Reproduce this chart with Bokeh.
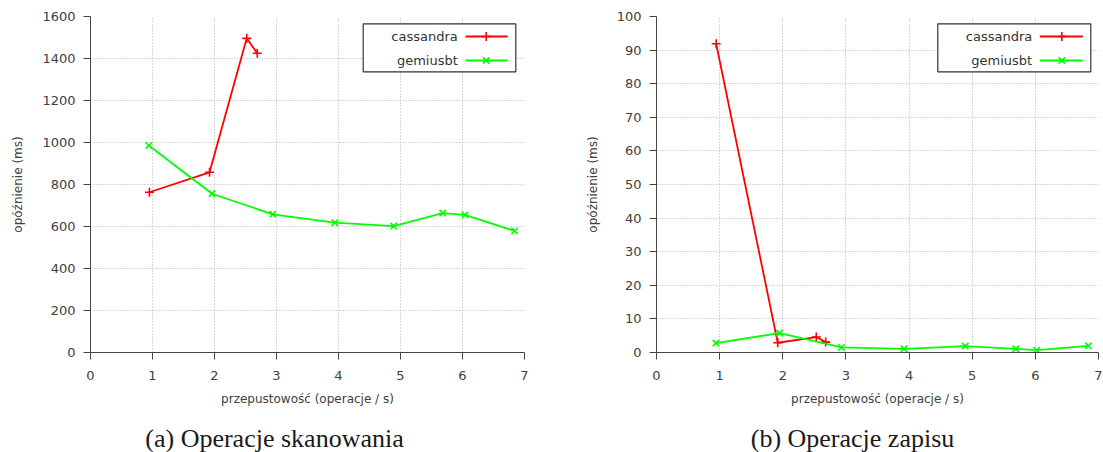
from bokeh.plotting import figure
from bokeh.models import Range1d, FixedTicker, ColumnDataSource
from bokeh.layouts import row, column
from bokeh.embed import file_html
from bokeh.resources import INLINE
from bokeh.core.properties import value

# ---------------- data ----------------
series_names = ["cassandra", "gemiusbt"]
x_ticks = [0, 1, 2, 3, 4, 5, 6, 7]

scan_cassandra_x = [0.95, 1.92, 2.52, 2.69]
scan_cassandra_y = [763, 858, 1496, 1425]
scan_gemiusbt_x = [0.94, 1.96, 2.94, 3.94, 4.89, 5.68, 6.04, 6.84]
scan_gemiusbt_y = [986, 756, 658, 618, 602, 664, 655, 579]
scan_y_ticks = [0, 200, 400, 600, 800, 1000, 1200, 1400, 1600]

write_cassandra_x = [0.945, 1.92, 2.53, 2.68]
write_cassandra_y = [91.9, 2.9, 4.6, 3.1]
write_gemiusbt_x = [0.94, 1.95, 2.93, 3.92, 4.89, 5.69, 6.02, 6.84]
write_gemiusbt_y = [2.8, 5.8, 1.5, 1.1, 1.9, 1.1, 0.7, 2.0]
write_y_ticks = [0, 10, 20, 30, 40, 50, 60, 70, 80, 90, 100]

x_label = "przepustowość (operacje / s)"
y_label = "opóźnienie (ms)"
captions = ["(a) Operacje skanowania", "(b) Operacje zapisu"]

colors = ["#ff0000", "#00ff00"]
markers = ["cross", "x"]

SANS = "DejaVu Sans"
TXT = "#404040"
MAIN_H = 408
CAP_H = 44


def make_panel(cx, cy, gx, gy, yticks, ymax, width, bl, br, leg):
    bt, bb = 16, MAIN_H - 352
    fw = width - bl - br
    fh = MAIN_H - bt - bb
    p = figure(width=width, height=MAIN_H, output_backend="svg", toolbar_location=None,
               x_range=Range1d(0, 7), y_range=Range1d(0, ymax),
               min_border_left=bl, min_border_right=br, min_border_top=bt, min_border_bottom=bb)
    p.outline_line_color = None
    p.background_fill_color = "white"
    p.border_fill_color = "white"

    for ax, ticks in ((p.xaxis[0], x_ticks), (p.yaxis[0], yticks)):
        ax.ticker = FixedTicker(ticks=ticks)
        ax.axis_line_color = "#444444"
        ax.major_tick_line_color = "#444444"
        ax.major_tick_out = 7
        ax.major_tick_in = 0
        ax.minor_tick_line_color = None
        ax.major_label_text_font = SANS
        ax.major_label_text_font_size = "13px"
        ax.major_label_text_color = TXT
        ax.axis_label_text_font = SANS
        ax.axis_label_text_font_size = "12px"
        ax.axis_label_text_font_style = "normal"
        ax.axis_label_text_color = TXT
    p.xaxis[0].axis_label = x_label
    p.yaxis[0].axis_label = y_label
    p.xaxis[0].major_label_standoff = 11
    p.yaxis[0].major_label_standoff = 8
    p.xaxis[0].axis_label_standoff = 9
    p.yaxis[0].axis_label_standoff = 14

    for g in p.grid:
        g.grid_line_color = "#b0b0b0"
        g.grid_line_dash = "1 2"
        g.grid_line_width = 1

    # data
    for (xs, ys), col, mk in zip(((cx, cy), (gx, gy)), colors, markers):
        src = ColumnDataSource(dict(x=xs, y=ys))
        p.line("x", "y", source=src, line_color=col, line_width=1.8)
        p.scatter("x", "y", source=src, marker=mk, size=9, line_color=col, line_width=1.6)

    # legend (in frame pixel coordinates, text left / sample right like gnuplot)
    p.extra_x_ranges = {"px": Range1d(0, fw)}
    p.extra_y_ranges = {"py": Range1d(0, fh)}
    p.quad(left=[leg["box"][0]], right=[leg["box"][1]], bottom=[fh - leg["box"][3]],
           top=[fh - leg["box"][2]], x_range_name="px", y_range_name="py",
           fill_color="white", line_color="#333333", line_width=1.2)
    for i, (name, col, mk) in enumerate(zip(series_names, colors, markers)):
        yy = fh - leg["rows"][i]
        p.text(x=[leg["text_r"]], y=[yy], text=[name], x_range_name="px", y_range_name="py",
               text_align="right", text_baseline="middle", text_font=value(SANS),
               text_font_size="13px", text_color="#333333")
        p.line(x=[leg["line"][0], leg["line"][1]], y=[yy, yy], x_range_name="px", y_range_name="py",
               line_color=col, line_width=1.8)
        p.scatter(x=[leg["mark"]], y=[yy], x_range_name="px", y_range_name="py",
                  marker=mk, size=9, line_color=col, line_width=1.6)
    return p


def make_caption(text, width, cx):
    c = figure(width=width, height=CAP_H, output_backend="svg", toolbar_location=None,
               x_range=Range1d(0, width), y_range=Range1d(0, CAP_H),
               x_axis_location=None, y_axis_location=None,
               min_border_left=0, min_border_right=0, min_border_top=0, min_border_bottom=0)
    c.outline_line_color = None
    c.grid.visible = False
    c.text(x=[cx], y=[CAP_H - 30], text=[text], text_align="center", text_baseline="middle",
           text_font=value("Liberation Serif"), text_font_size="26px", text_color="#1a1a1a")
    return c


left_leg = dict(box=(272.7, 425.3, 7.3, 55.3), rows=(20, 44), text_r=367.3,
                line=(375.0, 417.3), mark=395.7)
right_leg = dict(box=(281.3, 434.3, 7.3, 55.3), rows=(20, 44), text_r=375.7,
                 line=(383.3, 426.3), mark=405.3)

p1 = make_panel(scan_cassandra_x, scan_cassandra_y, scan_gemiusbt_x, scan_gemiusbt_y,
                scan_y_ticks, 1600, 552, 90, 28, left_leg)
p2 = make_panel(write_cassandra_x, write_cassandra_y, write_gemiusbt_x, write_gemiusbt_y,
                write_y_ticks, 100, 551, 104, 5, right_leg)
c1 = make_caption(captions[0], 552, 274)
c2 = make_caption(captions[1], 551, 852 - 552)

layout = column(row(p1, p2), row(c1, c2))
open("out.html", "w").write(file_html(layout, INLINE))
